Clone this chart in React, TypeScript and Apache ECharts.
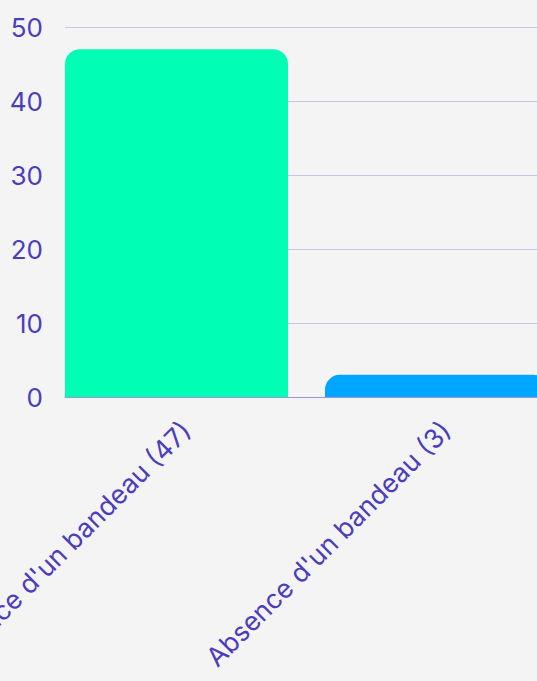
import React, { useEffect, useRef } from "react";
import * as echarts from "echarts";

const categories = ["Présence d'un bandeau (47)", "Absence d'un bandeau (3)"];
const values = [47, 3];
const barColors = ["#00FFB4", "#00A6FF"];
const yTicks = { min: 0, max: 50, interval: 10 };

export default function App() {
  const ref = useRef<HTMLDivElement>(null);
  useEffect(() => {
    if (!ref.current) return;
    const chart = echarts.init(ref.current, null, { renderer: "svg" });
    const textColor = "#4B3DBD";
    const font = "Inter, 'Noto Sans', sans-serif";
    chart.setOption({
      animation: false,
      backgroundColor: "#F4F4F4",
      grid: [
        { left: 65, top: 27, width: 502, height: 370, containLabel: false, outerBoundsMode: "none" },
        { left: 46.5, top: 27, width: 520, height: 370, containLabel: false, outerBoundsMode: "none" },
      ],
      xAxis: [
        {
          gridIndex: 0,
          type: "value",
          min: 0,
          max: 1,
          axisLine: { show: true, lineStyle: { color: "#9E93D8", width: 1 } },
          axisTick: { show: false },
          axisLabel: { show: false },
          splitLine: { show: false },
        },
        {
          gridIndex: 1,
          type: "category",
          data: categories,
          axisLine: { show: false },
          axisTick: { show: false },
          axisLabel: {
            rotate: 45,
            interval: 0,
            margin: 19,
            verticalAlign: "top",
            color: textColor,
            fontSize: 26.5,
            fontFamily: font,
          },
        },
      ],
      yAxis: [
        {
          gridIndex: 0,
          type: "value",
          min: yTicks.min,
          max: yTicks.max,
          interval: yTicks.interval,
          axisLine: { show: false },
          axisTick: { show: false },
          axisLabel: { color: textColor, fontSize: 26, fontFamily: font, margin: 22 },
          splitLine: { show: true, lineStyle: { color: "#C9C7DF", width: 1 } },
        },
        {
          gridIndex: 1,
          type: "value",
          min: yTicks.min,
          max: yTicks.max,
          interval: yTicks.interval,
          show: false,
          splitLine: { show: false },
        },
      ],
      series: [
        {
          type: "bar",
          xAxisIndex: 1,
          yAxisIndex: 1,
          barWidth: 223,
          data: values.map((v, i) => ({
            value: v,
            itemStyle: { color: barColors[i], borderRadius: [15, 15, 0, 0] },
          })),
        },
      ],
    });
    return () => chart.dispose();
  }, []);
  return (
    <div
      ref={ref}
      style={{ position: "fixed", left: 0, top: 0, width: 537, height: 681 }}
    />
  );
}
